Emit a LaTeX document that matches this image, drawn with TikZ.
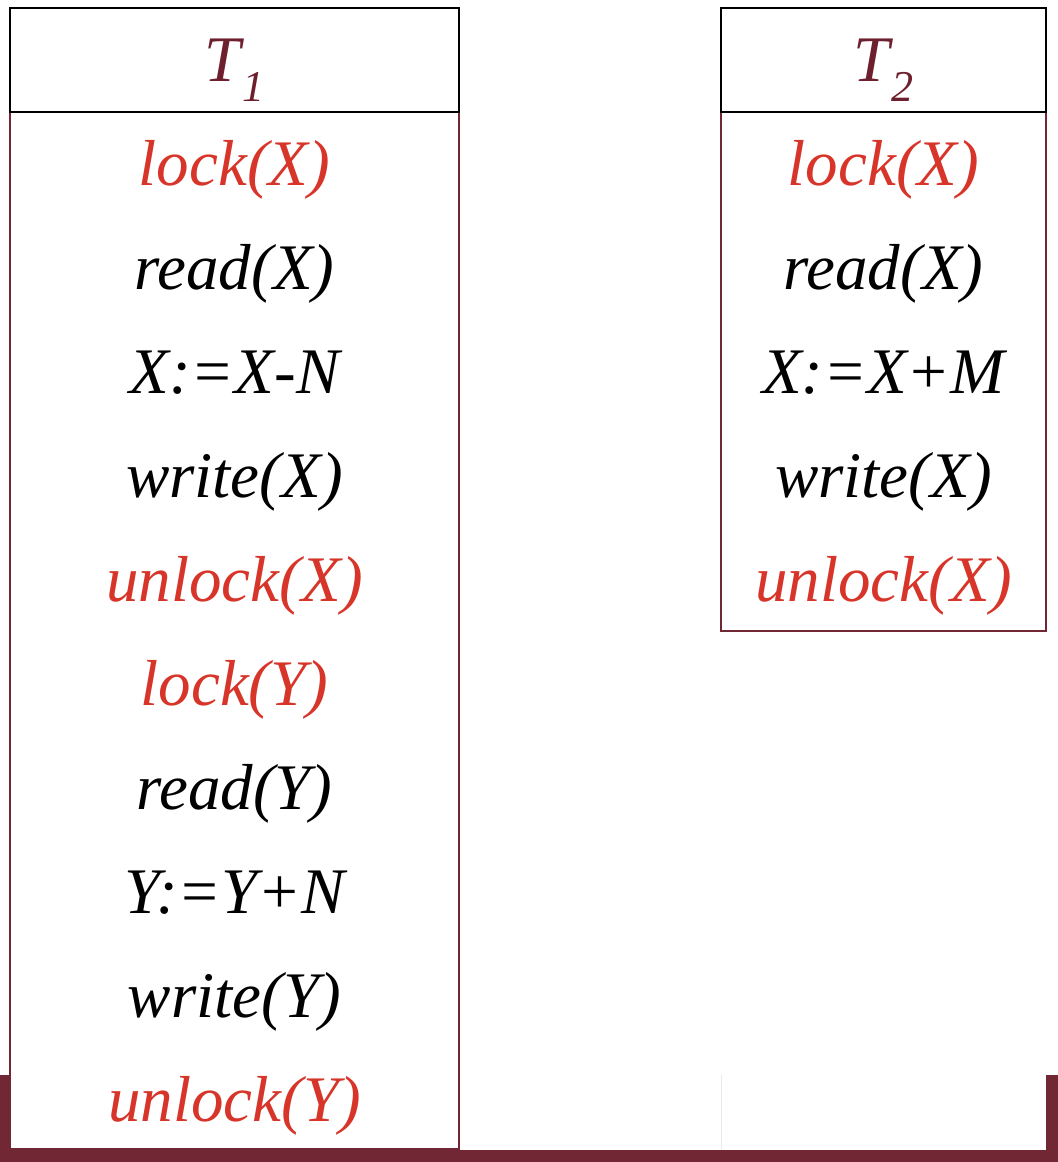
\documentclass[tikz,border=0pt]{standalone}
\usepackage{fontspec}
\setmainfont{Liberation Serif}
\definecolor{maroon}{HTML}{722834}
\definecolor{hdr}{HTML}{6E1F2D}
\definecolor{redop}{HTML}{D8352A}
\begin{document}
\begin{tikzpicture}[x=0.5pt,y=-0.5pt,
  op/.style={anchor=base,inner sep=0pt,font=\fontsize{32.5}{36}\selectfont\itshape},
  lockop/.style={op,text=redop},
  plainop/.style={op,text=black},
  hdrtext/.style={anchor=base,inner sep=0pt,text=hdr,font=\fontsize{32.5}{36}\selectfont\itshape},
  hdrbox/.style={draw=black,line width=1pt},
  bodybox/.style={draw=maroon,line width=1pt}]
\useasboundingbox (0,0) rectangle (1058,1162);
% footer band
\fill[maroon] (0,1075) rectangle (1058,1162);
\fill[white] (10,1075) rectangle (1046,1150);
\draw[black!8,line width=0.4pt] (721,1075) -- (721,1150);
% T1 table
\fill[white] (10,112) rectangle (459,1149);
\draw[bodybox] (10,112) rectangle (459,1149);
\draw[hdrbox] (10,8) rectangle (459,112);
\node[hdrtext] (h1) at (234.5,81) {T\kern1pt\raisebox{-10pt}{\fontsize{22}{24}\selectfont 1}};
\node[lockop]  (a1)  at (234.5,185) {lock(X)};
\node[plainop] (a2)  at (234.5,289) {read(X)};
\node[plainop] (a3)  at (234.5,393) {X:=X-N};
\node[plainop] (a4)  at (234.5,497) {write(X)};
\node[lockop]  (a5)  at (234.5,601) {unlock(X)};
\node[lockop]  (a6)  at (234.5,705) {lock(Y)};
\node[plainop] (a7)  at (234.5,809) {read(Y)};
\node[plainop] (a8)  at (234.5,913) {Y:=Y+N};
\node[plainop] (a9)  at (234.5,1017) {write(Y)};
\node[lockop]  (a10) at (234.5,1121) {unlock(Y)};
% T2 table
\draw[bodybox] (721,112) rectangle (1046,631);
\draw[hdrbox] (721,8) rectangle (1046,112);
\node[hdrtext] (h2) at (883.5,81) {T\kern1pt\raisebox{-10pt}{\fontsize{22}{24}\selectfont 2}};
\node[lockop]  (b1) at (883.5,185) {lock(X)};
\node[plainop] (b2) at (883.5,289) {read(X)};
\node[plainop] (b3) at (883.5,393) {X:=X+M};
\node[plainop] (b4) at (883.5,497) {write(X)};
\node[lockop]  (b5) at (883.5,601) {unlock(X)};
\end{tikzpicture}
\end{document}
